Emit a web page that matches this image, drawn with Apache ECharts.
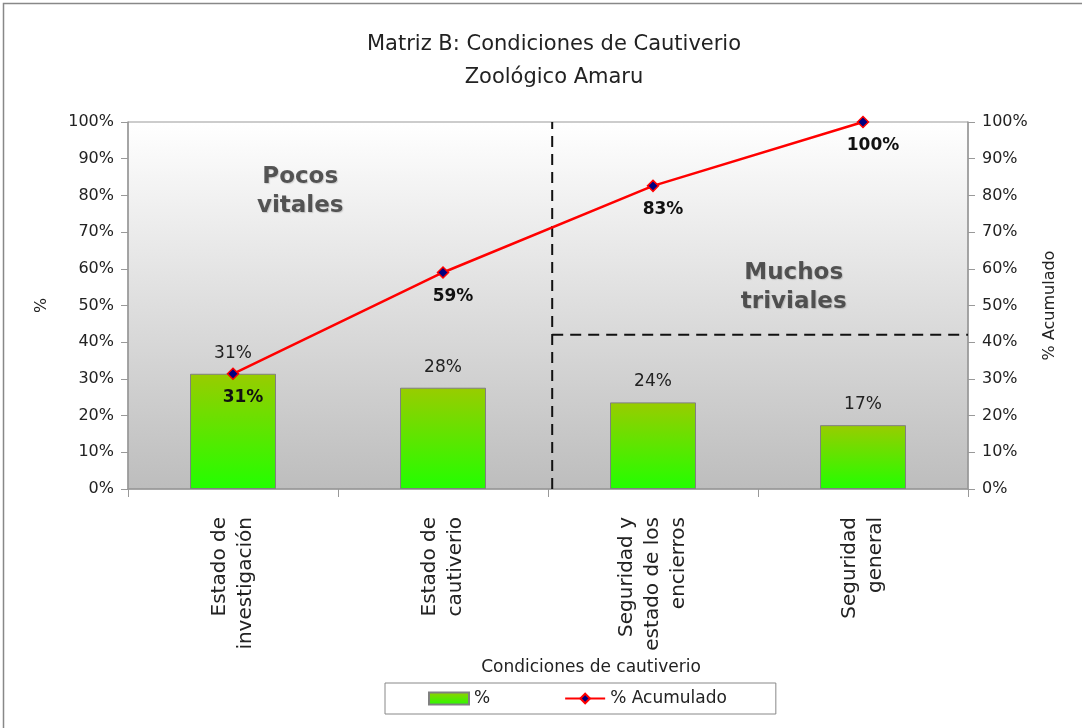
<!DOCTYPE html>
<html>
<head>
<meta charset="utf-8">
<script src="https://cdn.jsdelivr.net/npm/echarts@6/dist/echarts.min.js"></script>
<style>
  html, body { margin: 0; padding: 0; background: #fff; }
  #chart { width: 1082px; height: 728px; }
</style>
</head>
<body>
<div id="chart"></div>
<script>
// datos de la matriz
const categorias = ["Estado de\ninvestigación", "Estado de\ncautiverio", "Seguridad y\nestado de los\nencierros", "Seguridad\ngeneral"];
const porcentaje = [31.4, 27.6, 23.6, 17.4];
const acumulado = [31.4, 59.0, 82.6, 100];
const yTicks = { min: 0, max: 100, interval: 10 };

// lineas divisorias (eje x continuo 0..4)
const divisorVertical = [[2.02, 0], [2.02, 100]];
const divisorHorizontal = [[2.02, 42], [4, 42]];
// posiciones de los textos de zona
const zonas = [
  { name: "Pocos\nvitales", value: [0.82, 81] },
  { name: "Muchos\ntriviales", value: [3.17, 55] },
];

const FONT = "DejaVu Sans";
const chart = echarts.init(document.getElementById("chart"));

const option = {
  backgroundColor: "#fff",
  textStyle: { fontFamily: FONT },
  title: [
    {
      text: "Matriz B: Condiciones de Cautiverio\nZoológico Amaru",
      left: 549, top: 23, textAlign: "center",
      textStyle: { fontFamily: FONT, fontSize: 21, fontWeight: "normal", color: "#222", lineHeight: 33 },
    },
    {
      text: "Condiciones de cautiverio",
      left: 586, top: 654, textAlign: "center",
      textStyle: { fontFamily: FONT, fontSize: 17, fontWeight: "normal", color: "#222" },
    },
  ],
  graphic: [
    {
      type: "rect", silent: true, z: -10,
      shape: { x: 3.5, y: 3.5, width: 1100, height: 800 },
      style: { fill: "none", stroke: "#888", lineWidth: 1.5 },
    },
  ],
  legend: {
    left: 385, top: 683,
    padding: [7, 49, 7, 43],
    itemGap: 74,
    itemWidth: 40, itemHeight: 12,
    borderColor: "#888", borderWidth: 1,
    textStyle: { fontFamily: FONT, fontSize: 17, color: "#222" },
    data: [
      { name: "%", icon: "rect" },
      { name: "% Acumulado" },
    ],
  },
  grid: {
    left: 128, right: 114, top: 122, bottom: 239,
    show: true,
    borderColor: "#999", borderWidth: 1,
    backgroundColor: new echarts.graphic.LinearGradient(0, 0, 0, 1, [
      { offset: 0, color: "#ffffff" },
      { offset: 1, color: "#bdbdbd" },
    ]),
  },
  xAxis: [
    {
      type: "category",
      data: categorias,
      axisLine: { lineStyle: { color: "#999", width: 1.5 } },
      axisTick: { show: true, interval: 0, length: 8, lineStyle: { color: "#999" } },
      axisLabel: { interval: 0, rotate: 90, margin: 28, fontSize: 20, color: "#222", lineHeight: 26, fontFamily: FONT },
    },
    {
      type: "value", min: 0, max: 4, show: false,
    },
  ],
  yAxis: [
    {
      type: "value", ...yTicks,
      name: "%", nameLocation: "middle", nameGap: 78, nameRotate: 90,
      nameTextStyle: { fontSize: 16, color: "#222", fontFamily: FONT },
      splitLine: { show: false },
      axisLine: { show: true, lineStyle: { color: "#999", width: 1.5 } },
      axisTick: { show: true, length: 7, lineStyle: { color: "#999" } },
      axisLabel: { formatter: "{value}%", fontSize: 16, color: "#222", margin: 14, fontFamily: FONT },
    },
    {
      type: "value", ...yTicks, position: "right",
      name: "% Acumulado", nameLocation: "middle", nameGap: 74, nameRotate: 90,
      nameTextStyle: { fontSize: 16, color: "#222", fontFamily: FONT },
      splitLine: { show: false },
      axisLine: { show: true, lineStyle: { color: "#999", width: 1.5 } },
      axisTick: { show: true, length: 7, lineStyle: { color: "#999" } },
      axisLabel: { formatter: "{value}%", fontSize: 16, color: "#222", margin: 14, fontFamily: FONT },
    },
  ],
  series: [
    {
      name: "%",
      type: "bar",
      data: porcentaje,
      barWidth: 86,
      itemStyle: {
        borderColor: "#808080", borderWidth: 1,
        color: new echarts.graphic.LinearGradient(0, 0, 0, 1, [
          { offset: 0, color: "#99cc00" },
          { offset: 1, color: "#22ff00" },
        ]),
      },
      label: {
        show: true, position: "top", distance: 12,
        formatter: (p) => Math.round(p.value) + "%",
        fontSize: 17, color: "#222", fontFamily: FONT,
      },
      z: 2,
    },
    {
      name: "% Acumulado",
      type: "line",
      yAxisIndex: 1,
      data: acumulado,
      symbol: "diamond", symbolSize: 11,
      lineStyle: { color: "#ff0000", width: 2.5 },
      itemStyle: { color: "#000080", borderColor: "#ff0000", borderWidth: 1.5 },
      label: {
        show: true, position: "bottom", distance: 9, offset: [10, 0],
        formatter: (p) => Math.round(p.value) + "%",
        fontSize: 17, fontWeight: "bold", color: "#111", fontFamily: FONT,
      },
      z: 5,
    },
    {
      type: "line", xAxisIndex: 1, yAxisIndex: 0,
      data: divisorVertical, symbol: "none", silent: true,
      lineStyle: { color: "#111", width: 2, type: [11, 7] },
      z: 3,
    },
    {
      type: "line", xAxisIndex: 1, yAxisIndex: 0,
      data: divisorHorizontal, symbol: "none", silent: true,
      lineStyle: { color: "#111", width: 2, type: [11, 7] },
      z: 3,
    },
    {
      type: "scatter", xAxisIndex: 1, yAxisIndex: 0,
      data: zonas, symbolSize: 0, silent: true,
      label: {
        show: true, position: "inside",
        formatter: (p) => p.name,
        fontSize: 23, fontWeight: "bold", color: "#333", lineHeight: 29, fontFamily: FONT,
        textShadowColor: "rgba(0,0,0,0.2)", textShadowBlur: 1, textShadowOffsetX: 1, textShadowOffsetY: 1,
      },
      z: 4,
    },
  ],
};

chart.setOption(option);
</script>
</body>
</html>
